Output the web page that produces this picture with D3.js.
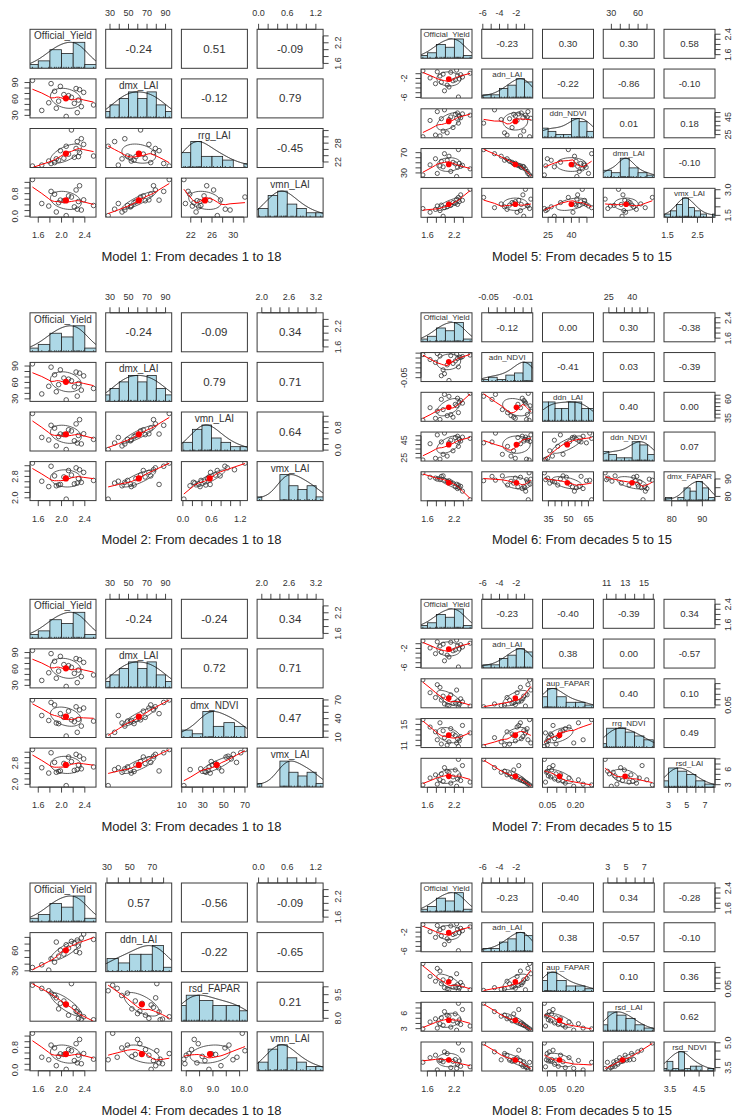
<!DOCTYPE html>
<html>
<head>
<meta charset="utf-8">
<script src="https://cdnjs.cloudflare.com/ajax/libs/d3/7.8.5/d3.min.js"></script>
<style>
  body { margin: 0; background: #fff; }
  svg text { font-family: "Liberation Sans", Arial, sans-serif; fill: #333; }
</style>
</head>
<body>
<div id="chart"></div>
<script>

// yearly observations (20 seasons), same year order in every array
var Official_Yield = [2.29, 1.88, 2.22, 1.50, 2.04, 2.34, 1.95, 2.55, 1.82, 2.17, 2.27, 1.66, 2.08, 2.38, 1.91, 2.25, 1.98, 2.31, 1.78, 2.12];

// decades 1 to 18
var dmx_LAI   = [58, 74, 52, 94, 68, 46, 56, 49, 88, 63, 35, 39, 28, 72, 43, 79, 83, 77, 53, 66];
var rrg_LAI   = [23.7, 21.8, 23.5, 20.7, 23.2, 29.4, 22.6, 23.9, 21.5, 32.2, 28.5, 21.0, 27.0, 27.6, 23.0, 26.3, 25.6, 25.0, 22.3, 24.5];
var vmn_LAI   = [0.52, 0.78, 0.33, 1.30, 0.55, 0.22, 0.48, 0.38, 0.88, 0.68, 0.25, 0.45, 0.02, 0.58, 0.15, 0.93, 0.57, 1.08, 0.36, 0.72];
var vmx_LAI_a = [2.72, 2.82, 2.52, 3.30, 2.78, 2.58, 2.48, 2.65, 3.18, 2.85, 2.55, 2.62, 1.95, 2.95, 2.45, 3.12, 2.50, 3.05, 2.42, 3.02];
var dmx_NDVI  = [39, 62, 35, 70, 42, 28, 32, 36, 66, 38, 18, 45, 12, 57, 33, 59, 48, 54, 37, 52];
var ddn_LAI_a = [67, 43, 71, 35, 55, 79, 52, 77, 48, 74, 76, 39, 69, 85, 73, 59, 61, 57, 31, 64];
var rsd_FAPAR = [8.0, 9.45, 8.7, 10.1, 9.1, 7.95, 8.6, 7.91, 9.6, 10.2, 8.4, 9.9, 8.85, 8.1, 9.3, 8.45, 8.95, 8.3, 9.75, 8.2];

// decades 5 to 15
var adn_LAI   = [-5.9, -1.5, -2.3, -0.4, -3.4, -1.2, -1.1, -0.9, -0.6, -2.5, -1.4, -1.9, -3.8, -1.7, -2.8, -0.25, -4.6, -2.1, -3.1, -0.7];
var ddn_NDVI  = [38, 23.5, 48, 22.6, 27, 44, 29, 47, 51, 33, 49.5, 41, 42, 48.5, 43, 43.5, 53, 46, 24.5, 45];
var dmn_LAI   = [76, 44, 48, 26, 55, 43, 42, 38, 29, 51, 41, 46, 63, 45, 53, 23, 68, 49, 58, 33];
var vmx_LAI_b = [2.55, 1.78, 2.2, 1.9, 2.0, 2.7, 1.45, 3.02, 2.05, 2.25, 2.14, 1.68, 2.17, 2.38, 2.1, 2.45, 1.95, 2.3, 1.85, 2.08];
var adn_NDVI  = [-0.028, -0.006, -0.016, -0.003, -0.024, -0.009, -0.034, -0.004, -0.001, -0.021, -0.011, -0.013, -0.0557, -0.007, -0.046, -0.002, -0.042, -0.008, -0.019, -0.005];
var ddn_LAI_b = [42, 33, 53, 32, 38, 58, 46, 67.4, 44, 36, 61, 48.5, 63.5, 54.5, 59.5, 51, 66, 56, 34.5, 39.5];
var dmx_FAPAR = [86.5, 89.6, 85.5, 93.5, 88.7, 85.8, 91.8, 78.1, 89.9, 87.6, 84.5, 91.0, 89.0, 83.0, 91.5, 87.0, 89.3, 85.0, 90.5, 88.3];
var aup_FAPAR = [0.034, 0.215, 0.073, 0.285, 0.049, 0.108, 0.133, 0.04, 0.24, 0.067, 0.088, 0.165, 0.045, 0.08, 0.096, 0.19, 0.06, 0.055, 0.12, 0.145];
var rrg_NDVI  = [10.84, 15.3, 12.9, 15.9, 11.1, 12.7, 13.8, 13.4, 12.1, 13.2, 12.3, 14.5, 11.7, 14.8, 11.3, 11.5, 12.5, 11.9, 13.6, 14.2];
var rsd_LAI   = [7.9, 3.95, 5.85, 2.95, 5.6, 3.8, 3.65, 3.5, 3.1, 4.5, 4.1, 4.3, 5.4, 6.7, 5.1, 2.7, 6.3, 4.7, 4.9, 3.3];
var rsd_NDVI  = [4.98, 3.93, 3.99, 3.82, 4.35, 3.58, 3.85, 3.55, 3.36, 3.88, 3.7, 4.1, 3.97, 4.55, 3.95, 3.45, 4.45, 3.9, 4.25, 3.5];

// models: variables and printed correlations (upper triangle, row by row)
var model1Vars = ['Official_Yield', 'dmx_LAI', 'rrg_LAI', 'vmn_LAI'];
var model2Vars = ['Official_Yield', 'dmx_LAI', 'vmn_LAI', 'vmx_LAI_a'];
var model3Vars = ['Official_Yield', 'dmx_LAI', 'dmx_NDVI', 'vmx_LAI_a'];
var model4Vars = ['Official_Yield', 'ddn_LAI_a', 'rsd_FAPAR', 'vmn_LAI'];
var model5Vars = ['Official_Yield', 'adn_LAI', 'ddn_NDVI', 'dmn_LAI', 'vmx_LAI_b'];
var model6Vars = ['Official_Yield', 'adn_NDVI', 'ddn_LAI_b', 'ddn_NDVI', 'dmx_FAPAR'];
var model7Vars = ['Official_Yield', 'adn_LAI', 'aup_FAPAR', 'rrg_NDVI', 'rsd_LAI'];
var model8Vars = ['Official_Yield', 'adn_LAI', 'aup_FAPAR', 'rsd_LAI', 'rsd_NDVI'];

var model1Cor = ['-0.24', '0.51', '-0.09', '-0.12', '0.79', '-0.45'];
var model2Cor = ['-0.24', '-0.09', '0.34', '0.79', '0.71', '0.64'];
var model3Cor = ['-0.24', '-0.24', '0.34', '0.72', '0.71', '0.47'];
var model4Cor = ['0.57', '-0.56', '-0.09', '-0.22', '-0.65', '0.21'];
var model5Cor = ['-0.23', '0.30', '0.30', '0.58', '-0.22', '-0.86', '-0.10', '0.01', '0.18', '-0.10'];
var model6Cor = ['-0.12', '0.00', '0.30', '-0.38', '-0.41', '0.03', '-0.39', '0.40', '0.00', '0.07'];
var model7Cor = ['-0.23', '-0.40', '-0.39', '0.34', '0.38', '0.00', '-0.57', '0.40', '0.10', '0.49'];
var model8Cor = ['-0.23', '-0.40', '0.34', '-0.28', '0.38', '-0.57', '-0.10', '0.10', '0.36', '0.62'];

var modelTitles = [
  'Model 1: From decades 1 to 18', 'Model 2: From decades 1 to 18',
  'Model 3: From decades 1 to 18', 'Model 4: From decades 1 to 18',
  'Model 5: From decades 5 to 15', 'Model 6: From decades 5 to 15',
  'Model 7: From decades 5 to 15', 'Model 8: From decades 5 to 15'
];

var series = {
  Official_Yield: Official_Yield, dmx_LAI: dmx_LAI, rrg_LAI: rrg_LAI, vmn_LAI: vmn_LAI,
  vmx_LAI_a: vmx_LAI_a, dmx_NDVI: dmx_NDVI, ddn_LAI_a: ddn_LAI_a, rsd_FAPAR: rsd_FAPAR,
  adn_LAI: adn_LAI, ddn_NDVI: ddn_NDVI, dmn_LAI: dmn_LAI, vmx_LAI_b: vmx_LAI_b,
  adn_NDVI: adn_NDVI, ddn_LAI_b: ddn_LAI_b, dmx_FAPAR: dmx_FAPAR, aup_FAPAR: aup_FAPAR,
  rrg_NDVI: rrg_NDVI, rsd_LAI: rsd_LAI, rsd_NDVI: rsd_NDVI
};
var modelVars = [model1Vars, model2Vars, model3Vars, model4Vars, model5Vars, model6Vars, model7Vars, model8Vars];
var modelCors = [model1Cor, model2Cor, model3Cor, model4Cor, model5Cor, model6Cor, model7Cor, model8Cor];

// page layout
var layouts = {
  left:  { x0: 30,  w: 66, h: 39, px: 75.7,  py: 49.6,  titleX: 191.5, labelSize: 10, corSize: 11.5, dotR: 2.3, meanR: 3.1, leftOff: 15.5, rightOff: 14.5 },
  right: { x0: 421, w: 51, h: 29, px: 60.75, py: 39.75, titleX: 582,   labelSize: 8,  corSize: 9.5,  dotR: 2.1, meanR: 2.8, leftOff: 17,   rightOff: 13 }
};
var panelTops = [29.3, 312.8, 599.3, 883];
var TICK = 5.5, AXIS_FONT = 9, GAP_H = 8.1, GAP_V = 6.33;

var svg = d3.select('#chart')
    .append('svg')
    .attr('width', 735)
    .attr('height', 1119);

var clipCount = 0;

var labelOf = function(key) { return key.replace(/_[ab]$/, ''); };

var padRange = function(v) {
	var e = d3.extent(v);
	var pad = (e[1] - e[0]) * 0.04;
	return [e[0] - pad, e[1] + pad];
};

var textWidth = (function() {
	var ctx = document.createElement('canvas').getContext('2d');
	return function(txt, size) {
		ctx.font = size + 'px "Liberation Sans", Arial, sans-serif';
		return ctx.measureText(txt).width;
	};
})();

// R's pretty() unit choice
var prettyStep = function(lo, hi, ndiv, h, h5) {
	var cell = (hi - lo) / ndiv;
	var U = Math.pow(10, Math.floor(Math.log10(cell)));
	var unit = U;
	if (2 * U - cell < h * (cell - unit)) {
		unit = 2 * U;
		if (5 * U - cell < h5 * (cell - unit)) {
			unit = 5 * U;
			if (10 * U - cell < h * (cell - unit)) unit = 10 * U;
		}
	}
	return unit;
};

var pearson = function(a, b) {
	var ma = d3.mean(a), mb = d3.mean(b);
	var sab = d3.sum(a, function(v, i) { return (v - ma) * (b[i] - mb); });
	var saa = d3.sum(a, function(v) { return (v - ma) * (v - ma); });
	var sbb = d3.sum(b, function(v) { return (v - mb) * (v - mb); });
	return sab / Math.sqrt(saa * sbb);
};

// lowess smoother, f = 2/3, 3 robustness iterations
var lowess = function(xIn, yIn) {
	var order = d3.range(xIn.length).sort(function(a, b) { return xIn[a] - xIn[b]; });
	var x = order.map(function(i) { return xIn[i]; });
	var y = order.map(function(i) { return yIn[i]; });
	var n = x.length;
	var ns = Math.max(2, Math.min(n, Math.floor(n * 2 / 3 + 1e-7)));
	var rw = x.map(function() { return 1; });
	var fit = new Array(n);
	for (var it = 0; it <= 3; it++) {
		for (var i = 0; i < n; i++) {
			var dist = x.map(function(v) { return Math.abs(v - x[i]); }).sort(function(a, b) { return a - b; });
			var h = Math.max(dist[ns - 1], 1e-12);
			var w = x.map(function(v, j) {
				var r = Math.abs(v - x[i]) / h;
				if (r >= 0.999) return 0;
				return (r <= 0.001 ? 1 : Math.pow(1 - r * r * r, 3)) * rw[j];
			});
			var sw = d3.sum(w);
			if (sw <= 0) { fit[i] = y[i]; continue; }
			var mx = d3.sum(x, function(v, j) { return w[j] * v; }) / sw;
			var my = d3.sum(y, function(v, j) { return w[j] * v; }) / sw;
			var sxx = d3.sum(x, function(v, j) { return w[j] * (v - mx) * (v - mx); });
			var sxy = d3.sum(x, function(v, j) { return w[j] * (v - mx) * (y[j] - my); });
			var range = x[n - 1] - x[0];
			fit[i] = Math.sqrt(sxx / sw) > 0.001 * range ? my + sxy / sxx * (x[i] - mx) : my;
		}
		if (it === 3) break;
		var res = y.map(function(v, j) { return Math.abs(v - fit[j]); });
		var cmad = 6 * d3.median(res);
		if (cmad < 1e-12) break;
		rw = res.map(function(r) { var u = r / cmad; return u < 1 ? Math.pow(1 - u * u, 2) : 0; });
	}
	return x.map(function(v, i) { return [v, fit[i]]; });
};

// gaussian kernel density, bw = nrd * 1.2, scaled to a max of 1
var densityLine = function(v) {
	var n = v.length, sd = d3.deviation(v);
	var iqr = d3.quantile(v, 0.75) - d3.quantile(v, 0.25);
	var lo = Math.min(sd, iqr / 1.34);
	if (!(lo > 0)) lo = sd;
	var bw = 1.2 * 1.06 * lo * Math.pow(n, -0.2);
	var a = d3.min(v) - 3 * bw, b = d3.max(v) + 3 * bw;
	var pts = d3.range(512).map(function(i) {
		var x = a + (b - a) * i / 511;
		return [x, d3.sum(v, function(t) { return Math.exp(-0.5 * Math.pow((x - t) / bw, 2)); })];
	});
	var mx = d3.max(pts, function(p) { return p[1]; });
	return pts.map(function(p) { return [p[0], p[1] / mx]; });
};

// Sturges breaks through pretty(), right-closed bins
var histBins = function(v) {
	var mn = d3.min(v), mx = d3.max(v);
	var step = prettyStep(mn, mx, 6, 1.5, 2.75);
	var i0 = Math.floor(mn / step + 1e-7), i1 = Math.ceil(mx / step - 1e-7);
	var eps = step * 1e-7;
	return d3.range(i0, Math.max(i1, i0 + 1)).map(function(i, k) {
		var lo = i * step, hi = (i + 1) * step;
		var cnt = v.filter(function(t) {
			return (t > lo + eps || (k === 0 && t >= lo - eps)) && t <= hi + eps;
		}).length;
		return { lo: lo, hi: hi, count: cnt };
	});
};

var drawAxis = function(cell, side, scale, L) {
	var dom = scale.domain();
	var lo = Math.min(dom[0], dom[1]), hi = Math.max(dom[0], dom[1]);
	var step = prettyStep(lo, hi, 5, 0.8, 1.7);
	var ticks = d3.range(Math.ceil(lo / step - 1e-10), Math.floor(hi / step + 1e-10) + 1)
		.map(function(i) { return +(i * step).toFixed(10); });
	var dec = Math.max(0, -Math.floor(Math.log10(step) + 1e-9));
	var horiz = side === 'top' || side === 'bottom';
	var edge = side === 'top' ? 0 : side === 'bottom' ? L.h : side === 'left' ? 0 : L.w;
	var dir = (side === 'top' || side === 'left') ? -1 : 1;
	var ax = cell.append('g').attr('class', 'axis');
	var p0 = scale(ticks[0]), p1 = scale(ticks[ticks.length - 1]);

	ax.append('line')
		.attr('x1', horiz ? p0 : edge).attr('x2', horiz ? p1 : edge)
		.attr('y1', horiz ? edge : p0).attr('y2', horiz ? edge : p1)
		.attr('stroke', '#333').attr('stroke-width', 0.9);

	ax.selectAll('line.tick')
		.data(ticks)
		.enter()
		.append('line')
		.attr('class', 'tick')
		.attr('x1', function(t) { return horiz ? scale(t) : edge; })
		.attr('x2', function(t) { return horiz ? scale(t) : edge + dir * TICK; })
		.attr('y1', function(t) { return horiz ? edge : scale(t); })
		.attr('y2', function(t) { return horiz ? edge + dir * TICK : scale(t); })
		.attr('stroke', '#333').attr('stroke-width', 0.9);

	// skip labels that would collide, as R does
	var gap = horiz ? GAP_H : GAP_V, last = -Infinity;
	ticks.forEach(function(t) {
		var txt = t.toFixed(dec);
		var w = textWidth(txt, AXIS_FONT);
		var p = horiz ? scale(t) : -scale(t);
		if (p - w / 2 < last + gap) return;
		last = p + w / 2;
		var lab = ax.append('text')
			.attr('font-size', AXIS_FONT)
			.attr('text-anchor', 'middle')
			.attr('dy', '0.35em')
			.text(txt);
		if (horiz) {
			lab.attr('x', scale(t)).attr('y', side === 'top' ? -16 : L.h + 18);
		} else {
			var lx = side === 'left' ? -L.leftOff : L.w + L.rightOff;
			lab.attr('transform', 'translate(' + lx + ',' + scale(t) + ') rotate(-90)');
		}
	});
};

var drawDiag = function(cell, key, xsc, L) {
	var v = series[key];
	var ysc = d3.scaleLinear().domain([0, 1.5]).range([L.h, 0]);
	var bins = histBins(v);
	var maxCount = d3.max(bins, function(b) { return b.count; });

	cell.selectAll('rect.bar')
		.data(bins)
		.enter()
		.append('rect')
		.attr('class', 'bar')
		.attr('x', function(b) { return xsc(b.lo); })
		.attr('width', function(b) { return xsc(b.hi) - xsc(b.lo); })
		.attr('y', function(b) { return ysc(b.count / maxCount); })
		.attr('height', function(b) { return ysc(0) - ysc(b.count / maxCount); })
		.attr('fill', 'lightblue')
		.attr('stroke', '#222')
		.attr('stroke-width', 0.8);

	cell.append('path')
		.attr('d', d3.line().x(function(p) { return xsc(p[0]); }).y(function(p) { return ysc(p[1]); })(densityLine(v)))
		.attr('fill', 'none')
		.attr('stroke', '#111')
		.attr('stroke-width', 1);

	cell.selectAll('line.rug')
		.data(v)
		.enter()
		.append('line')
		.attr('class', 'rug')
		.attr('x1', function(t) { return xsc(t); })
		.attr('x2', function(t) { return xsc(t); })
		.attr('y1', L.h)
		.attr('y2', L.h - Math.max(1.5, 0.03 * L.h))
		.attr('stroke', '#222')
		.attr('stroke-width', 0.8);

	cell.append('text')
		.attr('x', L.w / 2)
		.attr('y', L.h * (1 - 0.833))
		.attr('dy', '0.35em')
		.attr('text-anchor', 'middle')
		.attr('font-size', L.labelSize)
		.text(labelOf(key));
};

var drawScatter = function(cell, xKey, yKey, xsc, ysc, L) {
	var xv = series[xKey], yv = series[yKey];

	cell.selectAll('circle.pt')
		.data(d3.range(xv.length))
		.enter()
		.append('circle')
		.attr('class', 'pt')
		.attr('cx', function(i) { return xsc(xv[i]); })
		.attr('cy', function(i) { return ysc(yv[i]); })
		.attr('r', L.dotR)
		.attr('fill', 'none')
		.attr('stroke', '#333')
		.attr('stroke-width', 0.8);

	// correlation ellipse at one standard deviation
	var mx = d3.mean(xv), my = d3.mean(yv);
	var sx = d3.deviation(xv), sy = d3.deviation(yv);
	var r = pearson(xv, yv);
	var theta = r !== 0 ? Math.sign(r) / Math.SQRT2 : 1 / Math.SQRT2;
	var a = Math.sqrt(1 + r), b = Math.sqrt(1 - r);
	var ell = d3.range(52).map(function(k) {
		var ang = k * 2 * Math.PI / 51;
		var ex = Math.cos(ang) * a * theta - Math.sin(ang) * b * theta;
		var ey = Math.cos(ang) * a * theta + Math.sin(ang) * b * theta;
		return [mx + ex * sx, my + ey * sy];
	});
	var line = d3.line().x(function(p) { return xsc(p[0]); }).y(function(p) { return ysc(p[1]); });

	cell.append('path')
		.attr('d', line(ell))
		.attr('fill', 'none')
		.attr('stroke', '#333')
		.attr('stroke-width', 0.8);

	cell.append('path')
		.attr('d', line(lowess(xv, yv)))
		.attr('fill', 'none')
		.attr('stroke', 'red')
		.attr('stroke-width', 1);

	cell.append('circle')
		.attr('cx', xsc(mx))
		.attr('cy', ysc(my))
		.attr('r', L.meanR)
		.attr('fill', 'red');
};

var drawModel = function(mi) {
	var L = mi < 4 ? layouts.left : layouts.right;
	var top = panelTops[mi % 4];
	var keys = modelVars[mi];
	var cors = modelCors[mi];
	var k = keys.length;
	var g = svg.append('g').attr('class', 'model');
	var xScales = keys.map(function(key) { return d3.scaleLinear().domain(padRange(series[key])).range([0, L.w]); });
	var yScales = keys.map(function(key) { return d3.scaleLinear().domain(padRange(series[key])).range([L.h, 0]); });
	var c = 0;

	for (var i = 0; i < k; i++) {
		for (var j = 0; j < k; j++) {
			var cell = g.append('g')
				.attr('transform', 'translate(' + (L.x0 + j * L.px) + ',' + (top + i * L.py) + ')');
			var id = 'clip' + (clipCount++);
			cell.append('clipPath').attr('id', id)
				.append('rect').attr('width', L.w).attr('height', L.h);
			var inner = cell.append('g').attr('clip-path', 'url(#' + id + ')');

			if (i === j) {
				drawDiag(inner, keys[i], xScales[j], L);
			} else if (i > j) {
				drawScatter(inner, keys[j], keys[i], xScales[j], yScales[i], L);
			} else {
				inner.append('text')
					.attr('x', L.w / 2)
					.attr('y', L.h / 2)
					.attr('dy', '0.35em')
					.attr('text-anchor', 'middle')
					.attr('font-size', L.corSize)
					.text(cors[c++]);
			}

			cell.append('rect')
				.attr('width', L.w)
				.attr('height', L.h)
				.attr('fill', 'none')
				.attr('stroke', '#3a3a3a')
				.attr('stroke-width', 1);

			// R pairs axis placement: alternate sides
			if (i === 0 && (j + 1) % 2 === 0) drawAxis(cell, 'top', xScales[j], L);
			if (i === k - 1 && (j + 1) % 2 === 1) drawAxis(cell, 'bottom', xScales[j], L);
			if (j === 0 && (i + 1) % 2 === 0) drawAxis(cell, 'left', yScales[i], L);
			if (j === k - 1 && (i + 1) % 2 === 1) drawAxis(cell, 'right', yScales[i], L);
		}
	}

	g.append('text')
		.attr('x', L.titleX)
		.attr('y', top + 227)
		.attr('dy', '0.35em')
		.attr('text-anchor', 'middle')
		.attr('font-size', 13)
		.style('fill', '#222')
		.text(modelTitles[mi]);
};

d3.range(8).forEach(drawModel);

</script>
</body>
</html>
